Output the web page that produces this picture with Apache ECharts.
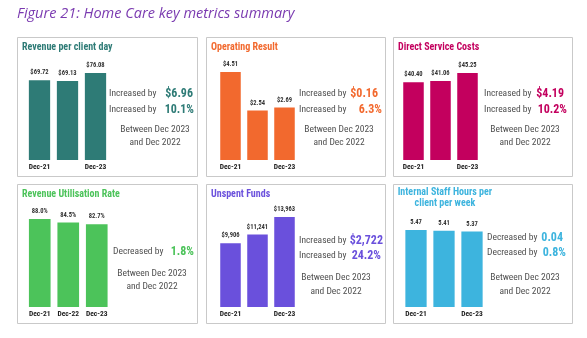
<!DOCTYPE html>
<html>
<head>
<meta charset="utf-8">
<script src="https://cdn.jsdelivr.net/npm/echarts@6/dist/echarts.min.js"></script>
<style>
  html, body { margin: 0; padding: 0; background: #ffffff; }
  #chart { width: 587px; height: 338px; }
</style>
</head>
<body>
<div id="chart"></div>
<script>
// Periods shown on every small chart
const periods = ['Dec-21', 'Dec-22', 'Dec-23'];

// Metric names
const metricNames = [
  'Revenue per client day',
  'Operating Result',
  'Direct Service Costs',
  'Revenue Utilisation Rate',
  'Unspent Funds',
  'Internal Staff Hours per\nclient per week'
];

// Values per metric (Dec-21, Dec-22, Dec-23)
const revenuePerClientDay = [69.72, 69.13, 76.08];
const operatingResult = [4.51, 2.54, 2.69];
const directServiceCosts = [40.40, 41.06, 45.25];
const revenueUtilisationRate = [88.0, 84.5, 82.7];
const unspentFunds = [9906, 11241, 13963];
const staffHoursPerWeek = [5.47, 5.41, 5.37];

// Bar value label formats
const labelFormats = ['$2', '$2', '$2', '%1', '$0', '2'];

// Change summaries (Dec 2023 vs Dec 2022)
const changeDirections = ['Increased by', 'Increased by', 'Increased by', 'Decreased by', 'Increased by', 'Decreased by'];
const changeAmounts = ['$6.96', '$0.16', '$4.19', null, '$2,722', '0.04'];
const changePercents = ['10.1%', '6.3%', '10.2%', '1.8%', '24.2%', '0.8%'];
const periodNote = ['Between Dec 2023', 'and Dec 2022'];

const allSeries = [revenuePerClientDay, operatingResult, directServiceCosts,
                   revenueUtilisationRate, unspentFunds, staffHoursPerWeek];

const colors = ['#2E7B76', '#F2692E', '#C3005E', '#4CC35A', '#6A50DC', '#3DB4DE'];

const FONT = '"Liberation Sans Narrow", "Roboto Condensed", "Liberation Sans", sans-serif';

// Panel frames [x, y, w, h]
const panels = [
  [17, 37, 180, 139], [206, 37, 179, 139], [393, 37, 179, 139],
  [17, 184, 180, 139], [206, 184, 179, 139], [393, 184, 179, 139]
];

// Plot areas [left, top(tallest bar), right edge, bottom]
const plots = [
  [25.5, 73, 109.5, 160], [217, 72, 298, 160], [400, 73, 481, 160],
  [25.5, 219, 111, 307], [217, 217, 298, 307], [402, 230, 486, 307]
];

// Text block positions:
// [x of "changed by", y row1, y row2, right edge row1, right edge row2, note center x, note y1, note y2]
const textPos = [
  [109, 94, 110, 193, 194, 155, 130, 143],
  [299, 94, 110, 378, 382, 339, 130, 143],
  [484, 94, 110, 564, 567, 525, 130, 143],
  [113, null, 252, null, 194, 152, 274, 287],
  [299, 241, 256, 383, 381, 336, 278, 292],
  [487, 238, 253, 563, 566, 525, 278, 292]
];

function fmt(v, f) {
  if (f[0] === '$') {
    const d = +f.slice(1);
    return '$' + v.toLocaleString('en-US', { minimumFractionDigits: d, maximumFractionDigits: d });
  }
  if (f[0] === '%') return v.toFixed(+f.slice(1)) + '%';
  return v.toFixed(+f);
}

const grids = [], xAxes = [], yAxes = [], series = [], graphics = [];

// Figure caption
graphics.push({
  type: 'text', left: 17, top: 6,
  style: { text: 'Figure 21: Home Care key metrics summary', font: 'italic 14.5px "Open Sans", "Liberation Sans", sans-serif', fill: '#7A3AB0' }
});

allSeries.forEach((vals, i) => {
  const [px, py, pw, ph] = panels[i];
  graphics.push({
    type: 'rect', shape: { x: px + 0.5, y: py + 0.5, width: pw, height: ph },
    style: { fill: '#ffffff', stroke: '#C9C9C9', lineWidth: 1 }, z: -1
  });
  // Panel heading
  const twoLine = metricNames[i].indexOf('\n') >= 0;
  graphics.push({
    type: 'text',
    x: twoLine ? px + pw * 0.29 : px + 5,
    y: py + (twoLine ? 3 : 5),
    style: {
      text: metricNames[i], fill: colors[i], font: 'bold 10px ' + FONT,
      align: twoLine ? 'center' : 'left', lineHeight: 11
    }
  });

  const [gl, gt, gr, gb] = plots[i];
  grids.push({ left: gl, top: gt, width: gr - gl, height: gb - gt });
  xAxes.push({
    type: 'category', gridIndex: i, data: periods,
    axisLine: { show: false }, axisTick: { show: false },
    axisLabel: { fontFamily: FONT, fontWeight: 'bold', fontSize: 7.5, color: '#222222', margin: 3 }
  });
  yAxes.push({
    type: 'value', gridIndex: i, min: 0, max: 'dataMax', show: false,
    splitLine: { show: false }
  });
  series.push({
    type: 'bar', xAxisIndex: i, yAxisIndex: i, data: vals,
    barCategoryGap: '24%',
    itemStyle: { color: colors[i] },
    label: {
      show: true, position: 'top', distance: 4,
      fontFamily: FONT, fontWeight: 'bold', fontSize: 6.5, color: '#333333',
      formatter: p => fmt(p.value, labelFormats[i])
    }
  });

  // Change summary text
  const [tx, y1, y2, r1, r2, nc, n1, n2] = textPos[i];
  const rows = [];
  if (changeAmounts[i] !== null) rows.push([y1, r1, changeAmounts[i]]);
  rows.push([y2, r2, changePercents[i]]);
  rows.forEach(([yy, rr, val]) => {
    graphics.push({
      type: 'text', x: tx, y: yy,
      style: { text: changeDirections[i], font: '9.5px ' + FONT, fill: '#505050', verticalAlign: 'middle' }
    });
    graphics.push({
      type: 'text', x: rr, y: yy,
      style: { text: val, font: 'bold 12px ' + FONT, fill: colors[i], align: 'right', verticalAlign: 'middle' }
    });
  });
  graphics.push({
    type: 'text', x: nc, y: n1,
    style: { text: periodNote[0], font: '9.5px ' + FONT, fill: '#505050', align: 'center', verticalAlign: 'middle' }
  });
  graphics.push({
    type: 'text', x: nc, y: n2,
    style: { text: periodNote[1], font: '9.5px ' + FONT, fill: '#505050', align: 'center', verticalAlign: 'middle' }
  });
});

const chart = echarts.init(document.getElementById('chart'), null, { renderer: 'canvas' });
chart.setOption({
  animation: false,
  grid: grids,
  xAxis: xAxes,
  yAxis: yAxes,
  series: series,
  graphic: graphics
});
</script>
</body>
</html>
